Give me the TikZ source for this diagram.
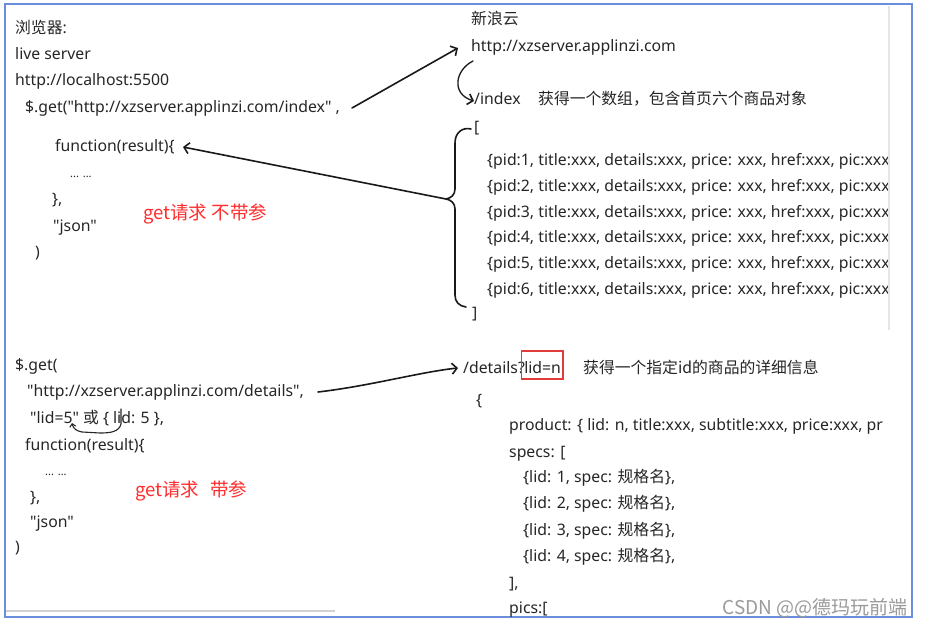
\documentclass[tikz,border=0pt]{standalone}
\usepackage{fontspec}
\setmainfont{Noto Sans}[Ligatures=TeXOff]
\newfontfamily\cjk{Noto Sans CJK SC}
\usetikzlibrary{arrows.meta}
\definecolor{ink}{HTML}{262626}
\definecolor{redtxt}{HTML}{FF2D2D}
\definecolor{boxred}{HTML}{E03C3C}
\definecolor{frameblue}{HTML}{6A8EDC}
\definecolor{wm}{HTML}{9A9A9A}
\begin{document}
\begin{tikzpicture}[x=1pt,y=-1pt,
  txt/.style={anchor=base west, inner sep=0pt, text=ink, font=\fontsize{15.8}{18}\selectfont},
  dots/.style={anchor=base west, inner sep=0pt, text=ink, font=\fontsize{11}{12}\selectfont},
  rtxt/.style={anchor=base west, inner sep=0pt, text=redtxt, font=\cjk\fontsize{18.5}{20}\selectfont},
  hand/.style={draw=black!90, line width=1.6pt, line cap=round, line join=round,
    -{Straight Barb[length=5pt,width=11pt,line width=1.6pt]}},
  handthin/.style={draw=black!85, line width=1.1pt, line cap=round,
    -{Straight Barb[length=3pt,width=6pt,line width=1.1pt]}},
  bracepen/.style={draw=black!90, line width=1.6pt, line cap=round, line join=round}]
\useasboundingbox (0,0) rectangle (925,628);
\fill[white] (0,0) rectangle (925,628);
% page edges
\draw[black!18, line width=2pt] (6,611) -- (335,611);

% ---------- top left: browser ----------
\node[txt] (b1) at (15,34) {{\cjk 浏览器}:};
\node[txt] (b2) at (15,59.5) {live server};
\node[txt] (b3) at (15,86) {http://localhost:5500};
\node[txt] (b4) at (25,113) {\$.get("http://xzserver.applinzi.com/index" ,};
\node[txt] (b5) at (55,152) {function(result)\{};
\node[dots] (b6) at (70,178) {... ...};
\node[txt] (b7) at (52,205) {\},};
\node[txt] (b8) at (53,232) {"json"};
\node[txt] (b9) at (35,257) {)};
\node[rtxt] (r1) at (143,219) {get请求 不带参};

% ---------- top right: server ----------
\node[txt] (s1) at (471,25) {{\cjk 新浪云}};
\node[txt] (s2) at (471,52) {http://xzserver.applinzi.com};
\node[txt] (s3) at (474,105) {/index};
\node[txt] (s4) at (538,105) {{\cjk 获得一个数组，包含首页六个商品对象}};
\node[txt] (s5) at (474,133) {[};
\begin{scope}
\clip (0,0) rectangle (888,628);
\foreach \i in {1,...,6}{
  \node[txt] (p\i) at (487,{166+25.6*(\i-1)}) {\{pid:\i, title:xxx, details:xxx, price: xxx, href:xxx, pic:xxx};
}
\end{scope}
\node[txt] (s6) at (472,318) {]};
\fill[white] (888,5) rectangle (911,330);
\draw[black!10, line width=2pt] (889,6) -- (889,330);
\draw[frameblue, line width=2pt] (5,4.5) rectangle (912,617);

% brace
\coordinate (tip) at (446,199);
\draw[bracepen] (471,129) .. controls (463,127) and (455,132) .. (455,143)
  -- (455,189) .. controls (455,195) and (451,198) .. (tip)
  .. controls (451,200) and (455,203) .. (455,209)
  -- (455,295) .. controls (455,302) and (459,306) .. (466,307);

% connectors top
\coordinate (a1s) at (352,108);
\coordinate (a1e) at (458,48);
\draw[hand] (a1s) -- (a1e);
\coordinate (a2e) at (183,147);
\draw[hand] (tip) -- (a2e);
\coordinate (a4s) at (473,61);
\coordinate (a4e) at (474,101);
\draw[hand, line width=1.3pt] (a4s) .. controls (455,70) and (451,94) .. (a4e);

% ---------- bottom left ----------
\node[txt] (d1) at (15,370) {\$.get(};
\node[txt] (d2) at (27,396) {"http://xzserver.applinzi.com/details",};
\node[txt] (d3) at (30,423) {"lid=5" {\cjk 或} \{ lid: 5 \},};
\node[txt] (d4) at (25,450) {function(result)\{};
\node[dots] (d5) at (45,475) {... ...};
\node[txt] (d6) at (30,502) {\},};
\node[txt] (d7) at (30,527) {"json"};
\node[txt] (d8) at (15,552) {)};
\node[rtxt] (r2) at (135,496) {get请求\hspace{0.6em}带参};

\coordinate (lidS) at (121,409);
\coordinate (lidE) at (72,423);
\draw[handthin] (lidS) -- (121,424) .. controls (119,432) and (110,433) .. (100,433)
  -- (82,432) .. controls (76,431) and (73,428) .. (lidE);

% ---------- bottom right ----------
\node[txt] (e1) at (463,373) {/details?};
\node[txt] (e2) at ([xshift=-1pt]e1.base east) {lid=n};
\draw[boxred, line width=1.5pt] ([xshift=-2.5pt]e2.west |- 0,351) rectangle ([xshift=2pt]e2.east |- 0,379);
\node[txt] (e3) at (583,373) {{\cjk 获得一个指定id的商品的详细信息}};
\node[txt] (e4) at (476,405) {\{};
\node[txt] (e5) at (509,430) {product: \{ lid: n, title:xxx, subtitle:xxx, price:xxx, pr};
\node[txt] (e6) at (509,457) {specs: [};
\foreach \i in {1,...,4}{
  \node[txt] (f\i) at (523,{482+26.5*(\i-1)}) {\{lid: \i, spec: {\cjk 规格名}\},};
}
\node[txt] (e11) at (509,588) {],};
\node[txt] (e12) at (509,613) {pics:[};

\coordinate (a3s) at (318,392);
\coordinate (a3e) at (458,368);
\draw[hand] (a3s) .. controls (370,386) and (420,372) .. (a3e);

% watermark
\node[anchor=base east, inner sep=0pt, text=wm, font=\cjk\fontsize{19}{20}\selectfont] (wmk) at (908,614) {CSDN @@德玛玩前端};
\end{tikzpicture}
\end{document}
